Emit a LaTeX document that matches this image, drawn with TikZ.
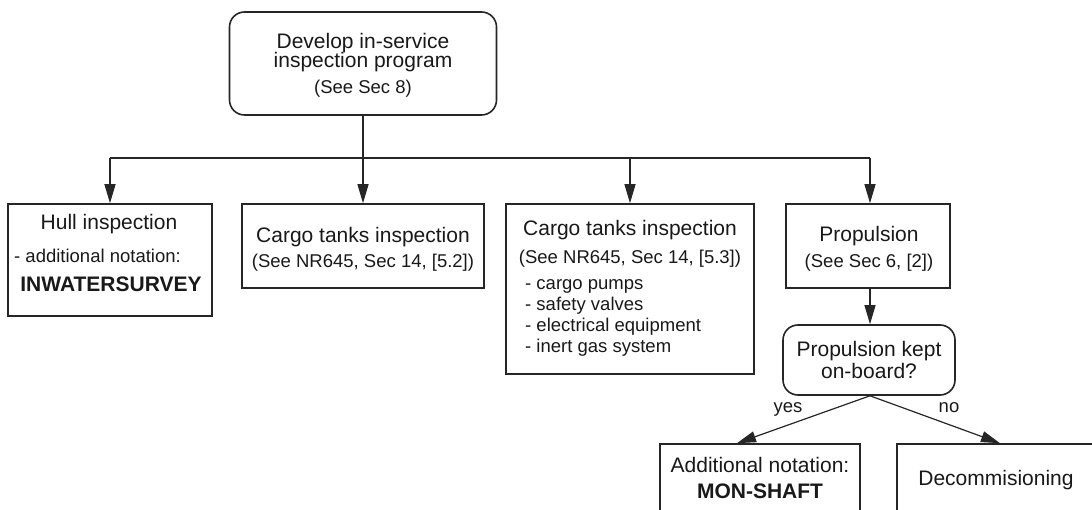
\documentclass[tikz,border=0pt]{standalone}
\usepackage{fontspec}
\setmainfont{Liberation Sans}
\usetikzlibrary{arrows.meta}
\newcommand{\mainf}{\fontsize{21}{20}\selectfont}
\newcommand{\subf}{\fontsize{18.5}{21}\selectfont}
\tikzset{
  boxsq/.style={draw=black!85, line width=1.6pt, minimum width=#1, inner sep=0pt},
  boxrd/.style={draw=black!85, line width=1.6pt, rounded corners=15pt, minimum width=#1, inner sep=0pt},
  conn/.style={draw=black!85, line width=1.2pt},
  arr/.style={conn, -{Triangle[length=19pt,width=11pt]}},
  mt/.style={anchor=base, inner sep=0pt, font=\mainf, text=black!90},
  st/.style={anchor=base, inner sep=0pt, font=\subf, text=black!90},
  bt/.style={anchor=base, inner sep=0pt, font=\mainf\bfseries, text=black!90},
}
\begin{document}
\begin{tikzpicture}[x=1pt,y=-1pt]
\useasboundingbox (0,0) rectangle (1092,510);
\fill[white] (0,0) rectangle (1092,510);

% boxes
\node[boxrd=267pt, minimum height=103pt] (top) at (363,63.5) {};
\node[boxsq=204pt, minimum height=112pt] (hull) at (110,260) {};
\node[boxsq=242pt, minimum height=84pt] (cargoa) at (363,246) {};
\node[boxsq=248pt, minimum height=170pt] (cargob) at (630,289) {};
\node[boxsq=164pt, minimum height=84pt] (prop) at (868,246) {};
\node[boxrd=172pt, minimum height=70pt] (dec) at (869,360) {};
\node[boxsq=200pt, minimum height=80pt] (mon) at (760,484) {};
\node[boxsq=213pt, minimum height=80pt] (decom) at (1003.5,484) {};

% texts
\node[mt] (topa) at (363,49) {Develop in-service};
\node[mt] (topb) at (363,68) {inspection program};
\node[st] (topc) at (363,94) {(See Sec 8)};

\node[mt] (hulla) at (109,230) {Hull inspection};
\node[st, anchor=base west] (hullb) at (14,263) {- additional notation:};
\node[bt] (hullc) at (111,292) {INWATERSURVEY};

\node[mt] (cargoaa) at (363,243) {Cargo tanks inspection};
\node[st] (cargoab) at (363,268) {(See NR645, Sec 14, [5.2])};

\node[mt] (cargoba) at (630,236) {Cargo tanks inspection};
\node[st] (cargobb) at (630,264) {(See NR645, Sec 14, [5.3])};
\node[st, anchor=base west] (cargobc) at (525,290) {- cargo pumps};
\node[st, anchor=base west] (cargobd) at (525,311) {- safety valves};
\node[st, anchor=base west] (cargobe) at (525,332) {- electrical equipment};
\node[st, anchor=base west] (cargobf) at (525,353) {- inert gas system};

\node[mt] (propa) at (869,242) {Propulsion};
\node[st] (propb) at (869,268) {(See Sec 6, [2])};

\node[mt] (deca) at (869,356) {Propulsion kept};
\node[mt] (decb) at (869,378) {on-board?};

\node[st] (yeslbl) at (788,412) {yes};
\node[st] (nolbl) at (949,412) {no};

\node[mt] (mona) at (760,472) {Additional notation:};
\node[bt] (monb) at (760,498) {MON-SHAFT};

\node[mt] (decoma) at (996,485) {Decommisioning};

% connectors
\coordinate (bar) at (363,158);
\coordinate (pj) at (870,158);
\draw[conn] (hull.north |- bar) -- (pj);
\draw[arr] (top.south) -- (cargoa.north);
\draw[arr] (hull.north |- bar) -- (hull.north);
\draw[arr] (cargob.north |- bar) -- (cargob.north);
\draw[arr] (pj) -- (pj |- prop.north);
\draw[arr] (pj |- prop.south) -- (pj |- dec.north);
\draw[arr] (pj |- dec.south) -- ([xshift=-23pt]mon.north);
\draw[arr] (pj |- dec.south) -- ([xshift=-3.5pt]decom.north);
\end{tikzpicture}
\end{document}
